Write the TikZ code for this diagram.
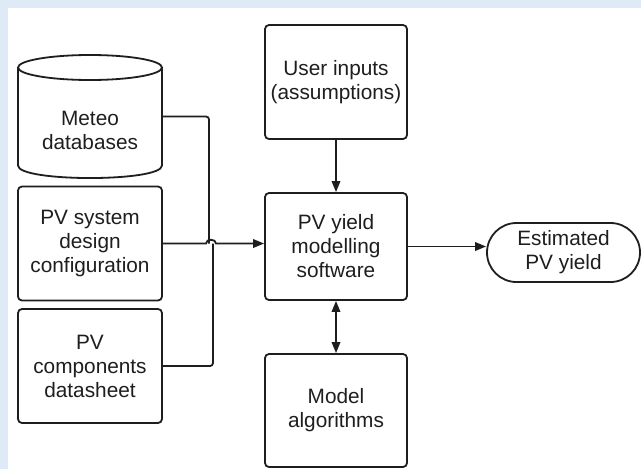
\documentclass[tikz,border=0pt]{standalone}
\usepackage{fontspec}
\setmainfont{Liberation Sans}
\usetikzlibrary{arrows.meta}
\definecolor{bgblue}{RGB}{222,235,247}
\definecolor{ink}{RGB}{30,30,30}
\begin{document}
\begin{tikzpicture}[x=1pt,y=-1pt,
  lbl/.style={align=center, inner sep=0pt, text=ink, font=\fontsize{20.8}{24}\selectfont},
  box/.style={lbl, draw=ink, line width=1.8pt, rounded corners=4pt, minimum width=144pt, minimum height=114pt},
  conn/.style={draw=ink, line width=1.8pt},
  tip/.style={-{Triangle[length=11pt,width=8.5pt]}},
  dtip/.style={{Triangle[length=11pt,width=8.5pt]}-{Triangle[length=11pt,width=8.5pt]}},
]
\fill[bgblue] (0,0) rectangle (641,469);
\fill[white] (8,8) rectangle (641,469);
\useasboundingbox (0,0) rectangle (641,469);

% cylinder (Meteo databases)
\node[box, draw=none, minimum height=123pt] (meteo) at (90,116.5) {};
\draw[conn] (90,67.5) ellipse [x radius=72, y radius=12.5];
\draw[conn] (18,67.5) -- (18,165.5) .. controls (18,182.2) and (162,182.2) .. (162,165.5) -- (162,67.5);
\node[lbl] (meteotxt) at (90,130) {Meteo\\databases};

\node[box] (pvsys) at (90,243.5) {PV system\\design\\configuration};
\node[box] (pvcomp) at (90,366) {PV\\components\\datasheet};
\node[box, minimum width=142pt] (user) at (336,82) {User inputs\\(assumptions)};
\node[box, minimum width=142pt, minimum height=107pt] (pvy) at (336,246.5) {PV yield\\modelling\\software};
\node[box, minimum width=142pt, minimum height=113pt] (model) at (336,410.5) {Model\\algorithms};
\node[box, rounded corners=29.5pt, minimum width=153pt, minimum height=59pt] (est) at (563.5,252.5) {Estimated\\PV yield};

\coordinate (j1) at (209,243.5);
\coordinate (j2) at (213,243.5);

\draw[conn, rounded corners=3pt] (meteo.east) -| (j1);
\draw[conn, rounded corners=3pt] (pvcomp.east) -| (j2);
\draw[conn, tip] (pvsys.east) -- (206,243.5) .. controls (206,238.5) and (216,238.5) .. (216,243.5) -- (pvy.west |- pvsys.east);
\draw[conn, tip] (user.south) -- (pvy.north);
\draw[conn, dtip] (pvy.south) -- (model.north);
\draw[conn, tip] (pvy.east) -- (pvy.east -| est.west);
\end{tikzpicture}
\end{document}
